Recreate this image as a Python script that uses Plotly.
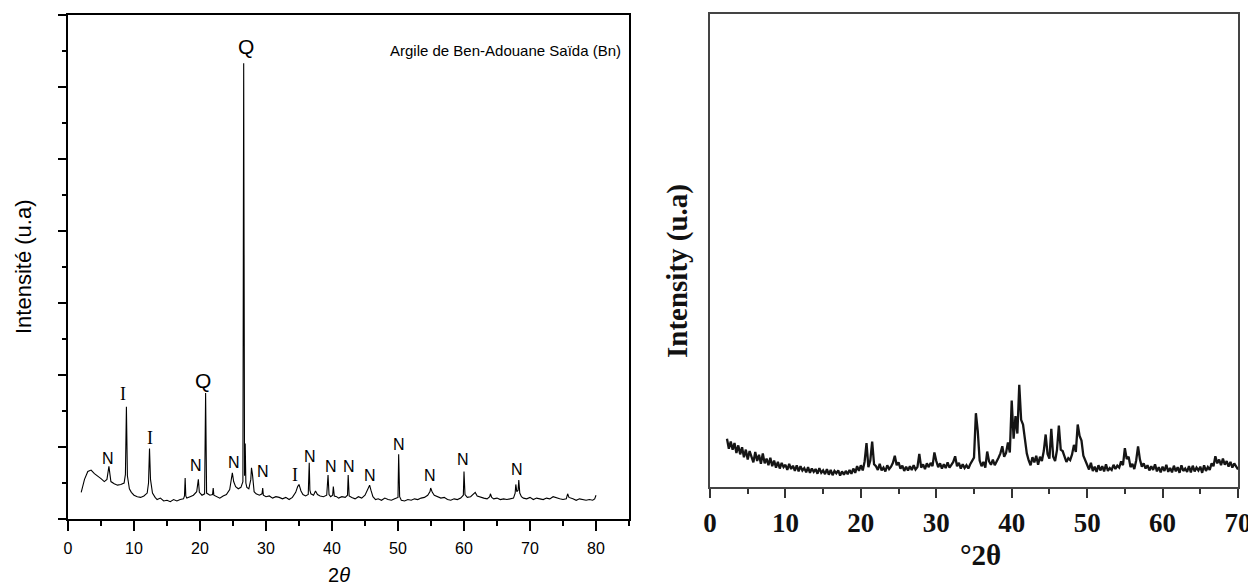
import plotly.graph_objects as go
import numpy as np

# ---- Left panel: XRD pattern of Ben-Adouane clay (Saïda) ----
two_theta_bn = [
    2.0, 2.5, 3.0, 3.5, 4.0, 4.5, 5.0, 5.5, 5.9, 6.2,
    6.5, 7.0, 7.5, 8.0, 8.5, 8.7, 8.85, 9.0, 9.3, 9.6,
    10.0, 10.5, 11.0, 11.5, 12.0, 12.2, 12.35, 12.5, 12.8, 13.2,
    13.5, 14.0, 14.5, 15.0, 15.5, 16.0, 16.5, 17.0, 17.5, 17.65,
    17.75, 17.85, 18.0, 18.5, 19.0, 19.5, 19.65, 19.75, 19.9, 20.3,
    20.7, 20.85, 21.0, 21.5, 21.9, 22.0, 22.1, 22.5, 23.0, 23.5,
    24.0, 24.5, 24.8, 24.9, 25.1, 25.4, 25.8, 26.2, 26.5, 26.62,
    26.75, 26.85, 26.95, 27.1, 27.4, 27.7, 27.8, 27.95, 28.2, 28.5,
    29.0, 29.4, 29.5, 29.6, 30.0, 30.5, 31.0, 31.5, 32.0, 32.5,
    33.0, 33.5, 34.0, 34.5, 34.8, 35.0, 35.3, 35.6, 36.0, 36.4,
    36.55, 36.65, 36.8, 37.2, 37.5, 37.8, 38.2, 38.7, 39.2, 39.4,
    39.55, 39.8, 40.1, 40.2, 40.35, 40.7, 41.0, 41.5, 42.0, 42.35,
    42.45, 42.6, 43.0, 43.5, 44.0, 44.5, 45.0, 45.4, 45.7, 45.9,
    46.2, 46.6, 47.0, 47.5, 48.0, 48.5, 49.0, 49.5, 50.0, 50.1,
    50.25, 50.5, 51.0, 51.5, 52.0, 52.5, 53.0, 53.5, 54.0, 54.5,
    54.85, 54.95, 55.2, 55.5, 56.0, 56.5, 57.0, 57.5, 58.0, 58.5,
    59.0, 59.5, 59.9, 60.0, 60.15, 60.5, 61.0, 61.4, 61.7, 62.0,
    62.5, 63.0, 63.5, 63.9, 64.0, 64.2, 64.5, 65.0, 65.5, 66.0,
    66.5, 67.0, 67.5, 67.75, 67.85, 68.0, 68.2, 68.3, 68.45, 68.7,
    69.0, 69.5, 70.0, 70.5, 71.0, 71.5, 72.0, 72.5, 73.0, 73.5,
    74.0, 74.5, 75.0, 75.5, 75.7, 75.9, 76.5, 77.0, 77.5, 78.0,
    78.5, 79.0, 79.5, 79.8, 80.0,
]
intensity_bn = [
    37, 55, 66, 68, 63, 60, 56, 52, 55, 73,
    52, 49, 47, 48, 50, 62, 156, 60, 42, 37,
    33, 31, 30, 32, 36, 50, 98, 55, 36, 30,
    27, 29, 25, 26, 24, 27, 25, 27, 28, 32,
    57, 32, 29, 31, 33, 38, 48, 55, 37, 33,
    35, 175, 36, 33, 34, 43, 33, 31, 29, 32,
    34, 41, 55, 64, 52, 45, 42, 44, 52, 633,
    60, 105, 50, 44, 42, 55, 71, 62, 38, 35,
    33, 35, 43, 33, 31, 32, 29, 31, 30, 28,
    30, 27, 30, 37, 45, 48, 39, 34, 32, 34,
    78, 40, 35, 33, 39, 34, 32, 31, 33, 61,
    34, 31, 33, 45, 32, 31, 29, 31, 30, 33,
    61, 32, 30, 28, 31, 29, 33, 41, 47, 40,
    31, 27, 28, 26, 29, 27, 26, 28, 30, 90,
    31, 26, 25, 27, 26, 28, 27, 29, 30, 33,
    38, 43, 37, 33, 31, 29, 30, 27, 26, 28,
    27, 29, 33, 66, 34, 30, 31, 34, 37, 32,
    30, 29, 28, 31, 35, 30, 28, 29, 27, 28,
    27, 28, 29, 36, 48, 38, 40, 54, 36, 31,
    29, 28, 30, 27, 29, 28, 27, 29, 28, 31,
    29, 28, 27, 28, 35, 30, 28, 26, 28, 27,
    26, 27, 26, 28, 33,
]

# Phase labels (N, I, Q) placed above the indexed reflections
peak_labels = ["N", "I", "I", "N", "Q", "N", "N", "I", "N", "N",
               "N", "N", "N", "N", "N", "N", "Q"]
peak_label_x = [6.1, 8.4, 12.4, 19.4, 20.5, 25.1, 29.6, 34.4, 36.7, 39.9,
                42.5, 45.8, 50.2, 54.8, 59.8, 68.1, 26.9]
peak_label_y = [84, 174, 112, 74, 193, 79, 66, 61, 87, 73,
                73, 60, 103, 60, 83, 69, 656]

# ---- Right panel: second diffractogram, 0.25° sampling from 2.25° ----
two_theta_start, two_theta_step = 2.25, 0.25
intensity_b = [
    10.2, 8.1, 9.6,
    7.9, 9.3, 7.2, 8.8,
    6.9, 8.4, 6.3, 7.9,
    5.8, 7.6, 6.1, 5.2,
    7.4, 5.5, 6.8, 4.9,
    7.1, 5.0, 6.0, 4.6,
    6.2, 4.4, 5.6, 4.1,
    5.3, 3.9, 5.1, 4.2,
    4.7, 3.6, 4.9, 3.8,
    4.5, 3.4, 4.6, 3.3,
    4.4, 3.5, 4.0, 3.1,
    4.2, 3.0, 3.9, 3.2,
    3.8, 2.8, 4.0, 3.0,
    3.5, 2.7, 3.8, 2.6,
    3.6, 2.5, 3.4, 2.9,
    3.5, 2.4, 3.3, 2.6,
    3.4, 2.7, 3.6, 2.8,
    3.9, 3.0, 4.4, 3.4,
    4.6, 3.5, 5.4, 9.3,
    4.2, 5.6, 9.6, 4.8,
    4.4, 3.6, 4.9, 3.5,
    4.1, 3.3, 4.6, 3.8,
    4.3, 5.1, 6.6, 4.6,
    5.2, 3.9, 4.5, 3.4,
    4.3, 3.5, 4.4, 3.6,
    4.6, 3.7, 4.2, 7.0,
    4.1, 4.8, 3.8, 5.0,
    4.2, 5.1, 4.4, 7.3,
    5.5, 4.2, 5.0, 3.9,
    4.8, 4.0, 5.2, 4.1,
    4.7, 5.3, 6.5, 4.4,
    5.1, 3.9, 4.8, 4.0,
    4.6, 3.9, 4.8, 5.6,
    6.2, 15.6, 11.8, 5.6,
    4.4, 5.3, 4.1, 7.5,
    5.4, 4.7, 5.8, 4.6,
    5.3, 6.2, 7.1, 8.6,
    6.4, 7.2, 9.4, 7.3,
    18.3, 10.2, 15.0, 11.3,
    21.6, 14.2, 13.2, 9.4,
    7.1, 5.6, 4.6, 6.3,
    5.2, 6.6, 4.7, 6.4,
    5.5, 7.6, 11.1, 7.0,
    6.0, 12.3, 6.4, 5.5,
    7.8, 13.0, 7.9, 7.6,
    6.2, 5.3, 6.1, 5.7,
    6.9, 8.9, 7.4, 13.2,
    10.8, 9.8, 6.6, 5.6,
    4.8, 3.7, 5.1, 3.4,
    4.3, 3.2, 4.6, 3.5,
    4.4, 3.3, 4.8, 3.4,
    4.0, 3.6, 4.7, 3.8,
    4.5, 4.1, 5.4, 4.6,
    8.2, 5.9, 6.4, 4.2,
    4.9, 3.8, 5.6, 8.6,
    5.8, 4.3, 5.0, 3.9,
    4.6, 3.5, 4.4, 3.6,
    4.8, 3.3, 4.2, 3.1,
    4.3, 3.4, 4.7, 3.2,
    4.0, 3.1, 4.5, 3.3,
    4.2, 3.0, 4.6, 3.4,
    3.9, 3.2, 4.4, 3.1,
    4.5, 3.3, 4.1, 3.5,
    4.3, 3.0, 4.6, 3.4,
    4.2, 3.6, 5.0, 4.4,
    6.5, 5.0, 5.8, 4.6,
    6.0, 4.7, 5.5, 4.3,
    5.3, 4.1, 5.0, 4.4,
    3.7,
]
two_theta_b = two_theta_start + two_theta_step * np.arange(len(intensity_b))

W, H = 1248, 586
SANS = "Arial, Liberation Sans, sans-serif"
SERIF = "Times New Roman, Liberation Serif, serif"

fig = go.Figure()
fig.add_trace(go.Scatter(x=two_theta_bn, y=intensity_bn, mode="lines",
                         line=dict(color="black", width=1.1),
                         xaxis="x", yaxis="y", showlegend=False, hoverinfo="skip"))
fig.add_trace(go.Scatter(x=two_theta_b, y=intensity_b, mode="lines",
                         line=dict(color="#151515", width=2.3),
                         xaxis="x2", yaxis="y2", showlegend=False, hoverinfo="skip"))

annotations = []
for txt, px, py in zip(peak_labels, peak_label_x, peak_label_y):
    if txt == "Q":
        fnt = dict(family=SANS, size=21, color="black")
    elif txt == "I":
        fnt = dict(family=SERIF, size=18, color="black")
    else:
        fnt = dict(family=SANS, size=16, color="black")
    annotations.append(dict(x=px, y=py, xref="x", yref="y", text=txt,
                            xanchor="center", yanchor="middle",
                            showarrow=False, font=fnt))


def paper_text(px, py, text, font, angle=0, xanchor="center"):
    return dict(x=px / W, y=1 - py / H, xref="paper", yref="paper", text=text,
                textangle=angle, showarrow=False, xanchor=xanchor,
                yanchor="middle", font=font)


annotations += [
    paper_text(623, 50, "Argile de Ben-Adouane Saïda (Bn)",
               dict(family=SANS, size=15, color="black"), xanchor="right"),
    paper_text(23, 267, "Intensité (u.a)",
               dict(family=SANS, size=22, color="black"), angle=-90),
    paper_text(339, 575, "2<i>θ</i>", dict(family=SANS, size=20, color="black")),
    paper_text(677, 271, "<b>Intensity (u.a)</b>",
               dict(family=SERIF, size=29, color="#111"), angle=-90),
    paper_text(980, 555, "<b>°2θ</b>", dict(family=SERIF, size=29, color="#111")),
]

fig.update_layout(
    width=W, height=H,
    margin=dict(l=0, r=0, t=0, b=0, autoexpand=False),
    paper_bgcolor="white", plot_bgcolor="white",
    showlegend=False,
    annotations=annotations,
    xaxis=dict(domain=[68 / W, 629 / W], anchor="y", range=[0, 85], automargin=False,
               tickmode="linear", tick0=0, dtick=10,
               ticks="outside", ticklen=10, tickwidth=1.5, tickcolor="black",
               minor=dict(dtick=5, ticks="outside", ticklen=5, tickwidth=1.5, tickcolor="black"),
               showline=True, linecolor="black", linewidth=1.5, mirror=True,
               showgrid=False, zeroline=False, ticklabelstandoff=4,
               tickfont=dict(family=SANS, size=16, color="black")),
    yaxis=dict(domain=[1 - 519 / H, 1 - 15 / H], anchor="x", range=[0, 700], automargin=False,
               tickmode="linear", tick0=0, dtick=100, showticklabels=False,
               ticks="outside", ticklen=8, tickwidth=1.5, tickcolor="black",
               minor=dict(dtick=50, ticks="outside", ticklen=4, tickwidth=1.5, tickcolor="black"),
               showline=True, linecolor="black", linewidth=1.5, mirror=True,
               showgrid=False, zeroline=False),
    xaxis2=dict(domain=[710 / W, 1238 / W], anchor="y2", range=[0, 70], automargin=False,
                tickmode="linear", tick0=0, dtick=10,
                ticks="outside", ticklen=9, tickwidth=2, tickcolor="#333",
                minor=dict(dtick=5, ticks="outside", ticklen=5, tickwidth=2, tickcolor="#333"),
                showline=True, linecolor="#444", linewidth=2, mirror=True,
                showgrid=False, zeroline=False, ticklabelstandoff=2,
                ticklabeloverflow="allow",
                tickfont=dict(family=SERIF, size=27, color="#111"),
                tickprefix="<b>", ticksuffix="</b>"),
    yaxis2=dict(domain=[1 - 487 / H, 1 - 14 / H], anchor="x2", range=[0, 100], automargin=False,
                showticklabels=False, ticks="",
                showline=True, linecolor="#444", linewidth=2, mirror=True,
                showgrid=False, zeroline=False),
)

fig.write_html("out.html", config={"displayModeBar": False})
